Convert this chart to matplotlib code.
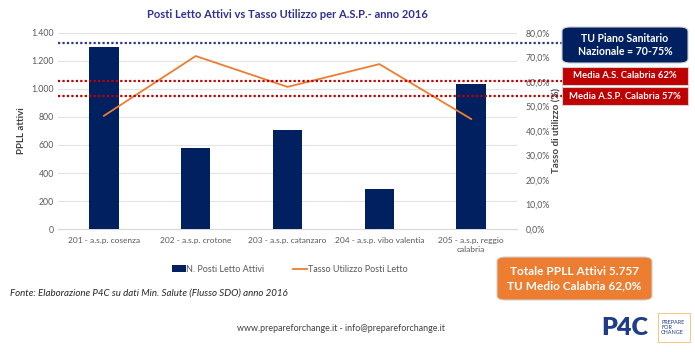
import matplotlib.pyplot as plt
from matplotlib.patches import FancyBboxPatch, Rectangle
from matplotlib.ticker import FuncFormatter

plt.rcParams['font.family'] = ['Lato', 'DejaVu Sans']

# data
categories = ['201 - a.s.p. cosenza', '202 - a.s.p. crotone', '203 - a.s.p. catanzaro',
              '204 - a.s.p. vibo valentia', '205 - a.s.p. reggio\ncalabria']
posti_letto = [1297, 576, 706, 283, 1033]
tasso_utilizzo = [46.2, 70.6, 58.0, 67.3, 44.9]
rif_nazionale = 76.0
rif_as = 60.5
rif_asp = 54.2

navy = '#002060'
orange = '#ED7D31'
red = '#C00000'
grey = '#595959'

fig = plt.figure(figsize=(6.95, 3.52), dpi=100)
ax = fig.add_axes([0.0835, 0.3494, 0.6605, 0.5569])
ax2 = ax.twinx()

x = range(len(categories))
bars = ax.bar(x, posti_letto, width=0.32, color=navy, zorder=3, label='N. Posti Letto Attivi')
line, = ax2.plot(x, tasso_utilizzo, color=orange, lw=1.3, zorder=4, label='Tasso Utilizzo Posti Letto')

ax.set_xlim(-0.5, 4.5)
ax.set_ylim(0, 1400)
ax.set_yticks(range(0, 1401, 200))
ax.yaxis.set_major_formatter(FuncFormatter(lambda v, p: f'{int(v):,}'.replace(',', '.')))
ax2.set_ylim(0, 80)
ax2.set_yticks(range(0, 81, 10))
ax2.yaxis.set_major_formatter(FuncFormatter(lambda v, p: f'{v:.1f}%'.replace('.', ',')))

ax.grid(axis='y', color='#e3e3e3', lw=0.8, zorder=0)
ax.set_axisbelow(True)
for a in (ax, ax2):
    for s in a.spines.values():
        s.set_visible(False)
    a.tick_params(length=0, labelsize=6.3, labelcolor=grey)
ax.spines['bottom'].set_visible(True)
ax.spines['bottom'].set_color('#d9d9d9')
ax.set_xticks(list(x))
ax.set_xticklabels(categories, fontsize=6, color=grey)
ax.tick_params(axis='x', pad=6)
ax.tick_params(axis='y', pad=3)
ax2.tick_params(axis='y', pad=6)

ax.set_ylabel('PPLL attivi', fontsize=7, color='#404040', fontweight='bold', labelpad=4)
ax2.set_ylabel('Tasso di utilizzo (%)', fontsize=7, color='#404040', fontweight='bold', labelpad=2)

# reference lines
tr = ax2.get_yaxis_transform()
ax2.plot([0, 1.16], [rif_nazionale] * 2, transform=tr, clip_on=False, color='#2B3990',
         lw=1.6, ls=(0, (1, 1)), zorder=5)
for v in (rif_as, rif_asp):
    ax2.plot([0, 1.10], [v] * 2, transform=tr, clip_on=False, color=red,
             lw=1.6, ls=(0, (1, 1)), zorder=5)

fig.text(0.413, 0.958, 'Posti Letto Attivi vs Tasso Utilizzo per A.S.P.- anno 2016',
         ha='center', va='center', fontsize=8, fontweight='bold', color='#2E3192')

leg = fig.legend(handles=[bars, line], loc='center', bbox_to_anchor=(0.417, 0.235), ncol=2,
                 frameon=False, fontsize=6.5, handlelength=1.5, columnspacing=3.2, handletextpad=0.1)
for t in leg.get_texts():
    t.set_color(grey)

fig.text(0.014, 0.168, 'Fonte: Elaborazione P4C su dati Min. Salute (Flusso SDO) anno 2016',
         fontsize=7, style='italic', color='#262626', va='center')
fig.text(0.49, 0.068, 'www.prepareforchange.it - info@prepareforchange.it',
         fontsize=6.4, color='#404040', ha='center', va='center')


def box(x0, y0, x1, y1, color, text, fs, round_=True):
    w, h = (x1 - x0) / 695, (y1 - y0) / 352
    xf, yf = x0 / 695, 1 - y1 / 352
    style = 'round,pad=0,rounding_size=0.012' if round_ else 'square,pad=0'
    p = FancyBboxPatch((xf, yf), w, h, boxstyle=style, transform=fig.transFigure,
                       facecolor=color, edgecolor='#d0d0d0', lw=0.8, zorder=10)
    fig.patches.append(p)
    fig.text(xf + w / 2, yf + h / 2, text, ha='center', va='center', color='white',
             fontsize=fs, fontweight='bold', zorder=11, linespacing=1.3)


box(562, 27, 688, 63, navy, 'TU Piano Sanitario\nNazionale = 70-75%', 7.6)
box(562, 67, 688, 85, red, 'Media A.S. Calabria 62%', 6.8, False)
box(562, 87, 688, 105, red, 'Media A.S.P. Calabria 57%', 6.8, False)
box(497, 257, 652, 300, orange, 'Totale PPLL Attivi 5.757\nTU Medio Calabria 62,0%', 8.6)

# logo
fig.text(601 / 695, 0.068, 'P4C', fontsize=18, fontweight='heavy', color='#1F3C88',
         ha='left', va='center')
fig.patches.append(Rectangle((658 / 695, 1 - 342 / 352), 32 / 695, 29 / 352,
                             transform=fig.transFigure, facecolor='white',
                             edgecolor='#F2C98B', lw=0.8))
fig.text(661 / 695, 1 - 327.5 / 352, 'PREPARE\nFOR\nCHANGE', fontsize=4, color='#1F3C88',
         ha='left', va='center', linespacing=1.1)

fig.savefig('out.png', dpi=100)
